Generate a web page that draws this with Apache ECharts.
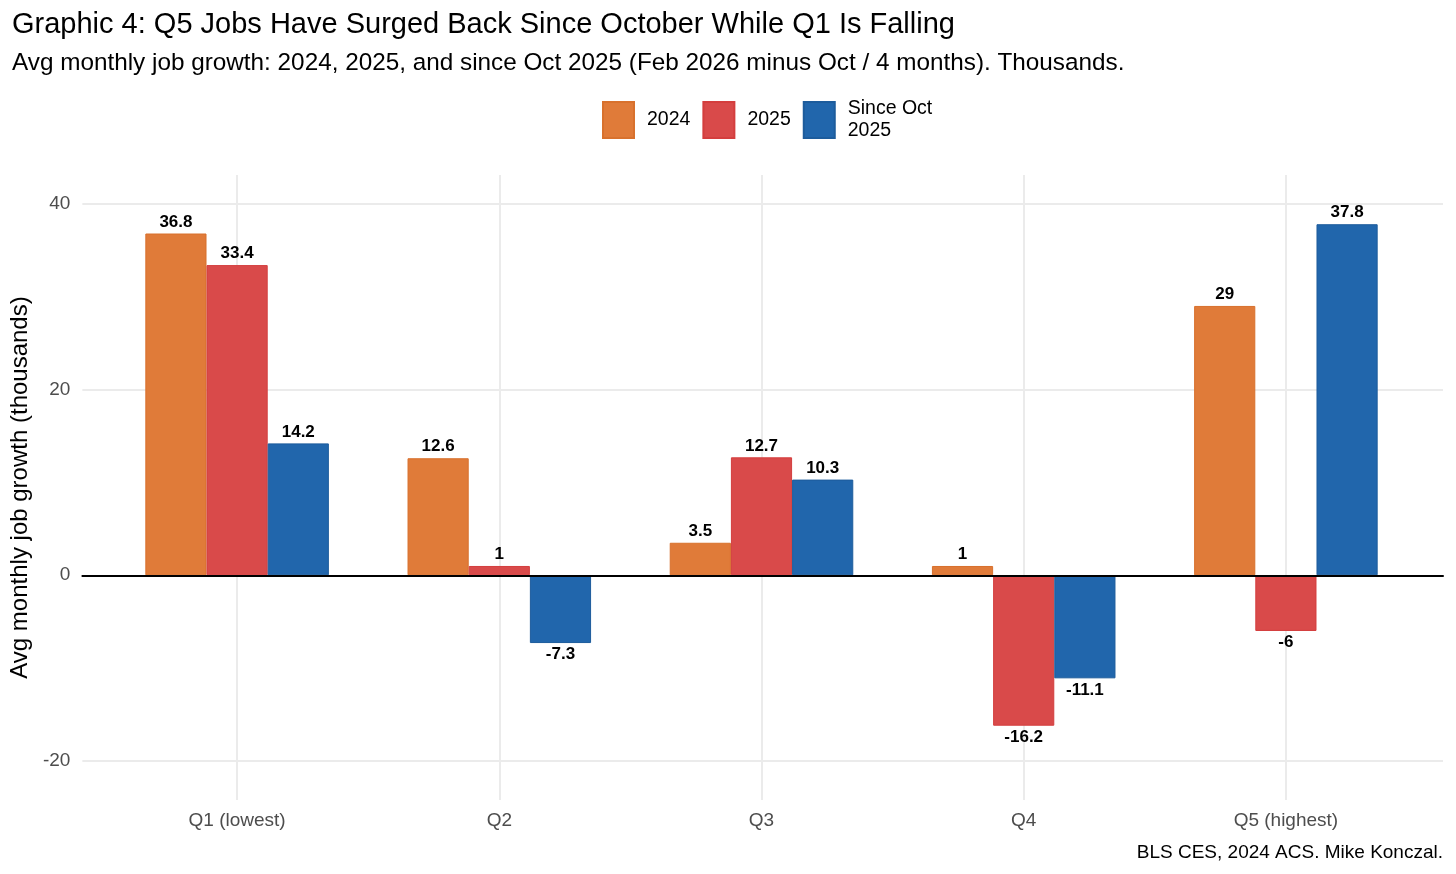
<!DOCTYPE html>
<html><head><meta charset="utf-8">
<script src="https://cdn.jsdelivr.net/npm/echarts@6/dist/echarts.min.js"></script>
<style>html,body{margin:0;padding:0;background:#fff}#c{width:1456px;height:874px}</style>
</head><body><div id="c"></div>
<script>
const categories = ['Q1 (lowest)', 'Q2', 'Q3', 'Q4', 'Q5 (highest)'];
const seriesNames = ['2024', '2025', 'Since Oct\n2025'];
const values2024 = [36.8, 12.6, 3.5, 1, 29];
const values2025 = [33.4, 1, 12.7, -16.2, -6];
const valuesSinceOct = [14.2, -7.3, 10.3, -11.1, 37.8];
const yTicks = [-20, 0, 20, 40];
const yMin = -24.2, yMax = 43.1;

const fills = ['#E07B39', '#D94A4A', '#2166AC'];
const borders = ['#D8712D', '#D43E3E', '#1D5C9C'];
const FONT = '"Liberation Sans", Arial, Helvetica, sans-serif';
const allValues = [values2024, values2025, valuesSinceOct];

const chart = echarts.init(document.getElementById('c'), null, {renderer: 'canvas'});
const TOP = 175, BOTTOM = 874 - 800;

const barSeries = allValues.map((vals, i) => ({
  name: seriesNames[i], type: 'bar', xAxisIndex: 1, yAxisIndex: 1,
  barGap: '0%', barCategoryGap: '30%', z: 2,
  itemStyle: {color: fills[i], borderColor: borders[i], borderWidth: 1},
  label: {show: true, fontFamily: FONT, fontWeight: 'bold', fontSize: 17, color: '#000', distance: 3,
    formatter: p => String(p.value)},
  data: vals.map(v => ({value: v, label: {position: v < 0 ? 'bottom' : 'top'}}))
}));

chart.setOption({
  animation: false,
  title: [
    {text: 'Graphic 4: Q5 Jobs Have Surged Back Since October While Q1 Is Falling', left: 7, top: 5,
     textStyle: {fontFamily: FONT, fontSize: 29, fontWeight: 'normal', color: '#000'}},
    {text: 'Avg monthly job growth: 2024, 2025, and since Oct 2025 (Feb 2026 minus Oct / 4 months). Thousands.', left: 7, top: 46,
     textStyle: {fontFamily: FONT, fontSize: 24.3, fontWeight: 'normal', color: '#000'}},
    {text: 'BLS CES, 2024 ACS. Mike Konczal.', right: 8, top: 838,
     textStyle: {fontFamily: FONT, fontSize: 19, fontWeight: 'normal', color: '#000'}}
  ],
  legend: {
    data: seriesNames, left: 597, top: 93, itemWidth: 31, itemHeight: 36, itemGap: 12,
    icon: 'rect', selectedMode: false,
    textStyle: {fontFamily: FONT, fontSize: 19.5, color: '#000', padding: [0, 0, 0, 8], lineHeight: 22}
  },
  grid: [
    {left: 80, right: 13, top: TOP, bottom: BOTTOM},
    {left: 106, right: 39, top: TOP, bottom: BOTTOM},
    {left: 237, right: 170, top: TOP, bottom: BOTTOM}
  ],
  xAxis: [
    {gridIndex: 0, type: 'value', min: 0, max: 1, z: 5,
     axisLine: {show: true, onZero: true, lineStyle: {color: '#000', width: 2}},
     axisTick: {show: false}, axisLabel: {show: false}, splitLine: {show: false}},
    {gridIndex: 1, type: 'category', data: categories,
     axisLine: {show: false}, axisTick: {show: false}, splitLine: {show: false},
     axisLabel: {fontFamily: FONT, fontSize: 19, color: '#4d4d4d', margin: 11}},
    {gridIndex: 2, type: 'category', data: categories, boundaryGap: false,
     axisLine: {show: false}, axisTick: {show: false}, axisLabel: {show: false},
     splitLine: {show: true, lineStyle: {color: '#EBEBEB', width: 2}}}
  ],
  yAxis: [
    {gridIndex: 0, type: 'value', min: yMin, max: yMax,
     name: 'Avg monthly job growth (thousands)', nameLocation: 'middle', nameGap: 40,
     nameTextStyle: {fontFamily: FONT, fontSize: 24, color: '#000'},
     axisLine: {show: false},
     axisTick: {show: false, customValues: yTicks},
     axisLabel: {customValues: yTicks, fontFamily: FONT, fontSize: 19, color: '#4d4d4d', margin: 12},
     splitLine: {show: true, lineStyle: {color: '#EBEBEB', width: 2}}},
    {gridIndex: 1, type: 'value', min: yMin, max: yMax, show: false, splitLine: {show: false}},
    {gridIndex: 2, type: 'value', min: yMin, max: yMax, show: false, splitLine: {show: false}}
  ],
  series: barSeries
});
</script></body></html>
